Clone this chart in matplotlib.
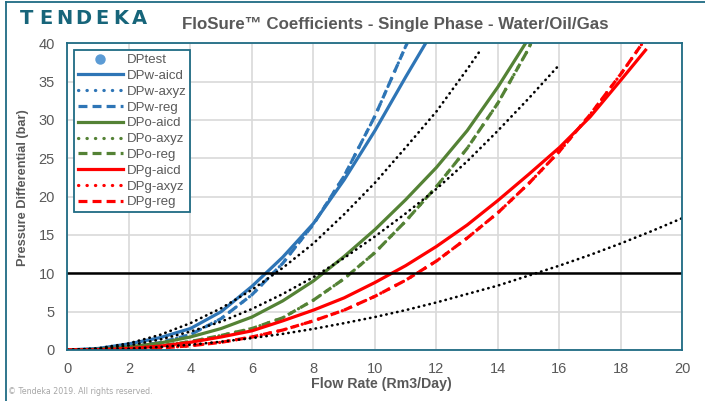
import matplotlib
matplotlib.use("Agg")
import matplotlib.pyplot as plt
from matplotlib.lines import Line2D

# values (flow rate Rm3/day -> dP bar)
Q_W_AICD = [0, 1, 2, 3, 4, 5, 6, 7, 8, 9, 10, 11, 11.65]
DPW_AICD = [0, 0.2, 0.8, 1.6, 2.8, 5.0, 8.3, 12.1, 16.5, 22.2, 28.6, 35.6, 40.0]

Q_W_REG = [0, 1, 2, 3, 4, 5, 6, 7, 8, 9, 10, 11, 11.05]
DPW_REG = [0, 0.05, 0.35, 0.95, 2.0, 4.1, 7.2, 11.3, 16.4, 22.7, 30.5, 39.6, 40.0]
DPW_AXYZ = DPW_REG  # plotted on top of the reg curve

Q_O_AICD = [0, 1, 2, 3, 4, 5, 6, 7, 8, 9, 10, 11, 12, 13, 14, 14.9]
DPO_AICD = [0, 0.1, 0.4, 0.9, 1.7, 2.8, 4.3, 6.4, 9.0, 12.2, 15.7, 19.6, 23.8,
            28.6, 34.3, 40.0]

Q_O_REG = [0, 1, 2, 3, 4, 5, 6, 7, 8, 9, 10, 11, 12, 13, 14, 15, 15.07]
DPO_REG = [0, 0.03, 0.2, 0.55, 1.1, 1.9, 2.8, 4.2, 6.5, 9.3, 12.7, 16.8, 21.3,
           26.3, 32.2, 39.3, 40.0]
DPO_AXYZ = DPO_REG

Q_G_AICD = [0, 1, 2, 3, 4, 5, 6, 7, 8, 9, 10, 11, 12, 13, 14, 15, 16, 17, 18, 18.8]
DPG_AICD = [0, 0.04, 0.19, 0.5, 1.0, 1.7, 2.5, 3.8, 5.2, 6.8, 8.8, 11.0, 13.5,
            16.3, 19.5, 22.9, 26.4, 30.4, 35.2, 39.1]

Q_G_REG = [0, 1, 2, 3, 4, 5, 6, 7, 8, 9, 10, 11, 12, 13, 14, 15, 16, 17, 18, 18.7]
DPG_REG = [0, 0.01, 0.08, 0.25, 0.55, 1.0, 1.7, 2.6, 3.8, 5.2, 7.0, 9.1, 11.6,
           14.6, 17.9, 21.7, 25.9, 30.7, 36.0, 40.0]
DPG_AXYZ = DPG_REG

# black dotted reference curves (not in legend)
Q_REF1 = [0, 1, 2, 3, 4, 5, 6, 7, 8, 9, 10, 11, 12, 13, 13.45]
DP_REF1 = [0, 0.22, 0.87, 1.96, 3.5, 5.45, 7.85, 10.7, 13.9, 17.7, 21.8, 26.4,
           31.1, 36.6, 39.2]
Q_REF2 = [0, 1, 2, 3, 4, 5, 6, 7, 8, 9, 10, 11, 12, 13, 14, 15, 16]
DP_REF2 = [0, 0.15, 0.6, 1.35, 2.4, 3.7, 5.35, 7.3, 9.5, 12.0, 14.8, 17.8, 21.0,
           24.6, 28.6, 32.8, 37.2]
Q_REF3 = [0, 1, 2, 3, 4, 5, 6, 7, 8, 9, 10, 11, 12, 13, 14, 15, 16, 17, 18, 19, 20]
DP_REF3 = [0, 0.04, 0.17, 0.39, 0.69, 1.08, 1.55, 2.1, 2.75, 3.5, 4.3, 5.2, 6.2,
           7.3, 8.4, 9.7, 11.0, 12.4, 13.9, 15.5, 17.2]

DP_LIMIT = 10
X_TICKS = list(range(0, 21, 2))
Y_TICKS = list(range(0, 41, 5))

BLUE = "#2E75B6"
BLUE_LIGHT = "#5B9BD5"
GREEN = "#548235"
RED = "#FF0000"
TEAL = "#1F6B84"
GREY_TXT = "#595959"
GRID = "#D9D9D9"

plt.rcParams["font.family"] = ["Liberation Sans", "DejaVu Sans"]

fig = plt.figure(figsize=(7.05, 4.01), dpi=100)
ax = fig.add_axes([0.0957, 0.1272, 0.8723, 0.7651])

DOT = dict(dashes=(0.1, 2.55), dash_capstyle="round")
DASH = dict(dashes=(2.8, 1.6))
LW = 2.3

ax.plot([], [], "o", color=BLUE_LIGHT, ms=6.5, label="DPtest")
series = [
    (Q_W_AICD, DPW_AICD, BLUE, "DPw-aicd", {}),
    (Q_W_REG, DPW_AXYZ, BLUE, "DPw-axyz", DOT),
    (Q_W_REG, DPW_REG, BLUE, "DPw-reg", DASH),
    (Q_O_AICD, DPO_AICD, GREEN, "DPo-aicd", {}),
    (Q_O_REG, DPO_AXYZ, GREEN, "DPo-axyz", DOT),
    (Q_O_REG, DPO_REG, GREEN, "DPo-reg", DASH),
    (Q_G_AICD, DPG_AICD, RED, "DPg-aicd", {}),
    (Q_G_REG, DPG_AXYZ, RED, "DPg-axyz", DOT),
    (Q_G_REG, DPG_REG, RED, "DPg-reg", DASH),
]
for q, dp, c, lab, sty in series:
    ax.plot(q, dp, color=c, lw=LW, label=lab, **sty)

for q, dp in [(Q_REF1, DP_REF1), (Q_REF2, DP_REF2), (Q_REF3, DP_REF3)]:
    ax.plot(q, dp, color="black", lw=1.9, dashes=(0.15, 1.95),
            dash_capstyle="round", label="_nolegend_")

ax.axhline(DP_LIMIT, color="black", lw=1.8)

ax.set_xlim(0, 20)
ax.set_ylim(0, 40)
ax.set_xticks(X_TICKS)
ax.set_yticks(Y_TICKS)
ax.grid(True, color=GRID, lw=1.2)
ax.set_axisbelow(True)
ax.tick_params(length=0, labelsize=10.5, labelcolor=GREY_TXT, pad=9)
for s in ax.spines.values():
    s.set_color(TEAL)
    s.set_linewidth(1.3)

ax.set_xlabel("Flow Rate (Rm3/Day)", fontsize=10.2, fontweight="bold",
              color=GREY_TXT)
ax.xaxis.set_label_coords(0.51, -0.088)
ax.set_ylabel("Pressure Differential (bar)", fontsize=9.2, fontweight="bold",
              color=GREY_TXT)
ax.yaxis.set_label_coords(-0.063, 0.53)

leg = ax.legend(loc="upper left", bbox_to_anchor=(0.0106, 0.978), borderaxespad=0,
                fontsize=9.5, handlelength=3.4, handletextpad=0.3,
                labelspacing=0.27, borderpad=0.3, fancybox=False, framealpha=1)
leg.get_frame().set_edgecolor(TEAL)
leg.get_frame().set_linewidth(1.3)
for t in leg.get_texts():
    t.set_color(GREY_TXT)

fig.text(395 / 705, 0.938, "FloSure\u2122 Coefficients - Single Phase - Water/Oil/Gas",
         ha="center", va="center", fontsize=12.2, fontweight="bold", color=GREY_TXT)

# logo, letters spread out
for i, ch in enumerate("TENDEKA"):
    fig.text((27 + i * 18.7) / 705, 0.955, ch, ha="center", va="center",
             fontsize=14, fontweight="bold", color="#17657A",
             family=["DejaVu Sans"])

fig.text(8 / 705, 0.018, "\u00a9 Tendeka 2019. All rights reserved.",
         fontsize=5.7, color="#A6A6A6", family=["DejaVu Sans"])

fig.add_artist(Line2D([6 / 705, 6 / 705], [0, 0.995], transform=fig.transFigure,
                      color=TEAL, lw=1.3))
fig.add_artist(Line2D([6 / 705, 1], [0.995, 0.995], transform=fig.transFigure,
                      color=TEAL, lw=1.3))

fig.savefig("out.png", dpi=100)
